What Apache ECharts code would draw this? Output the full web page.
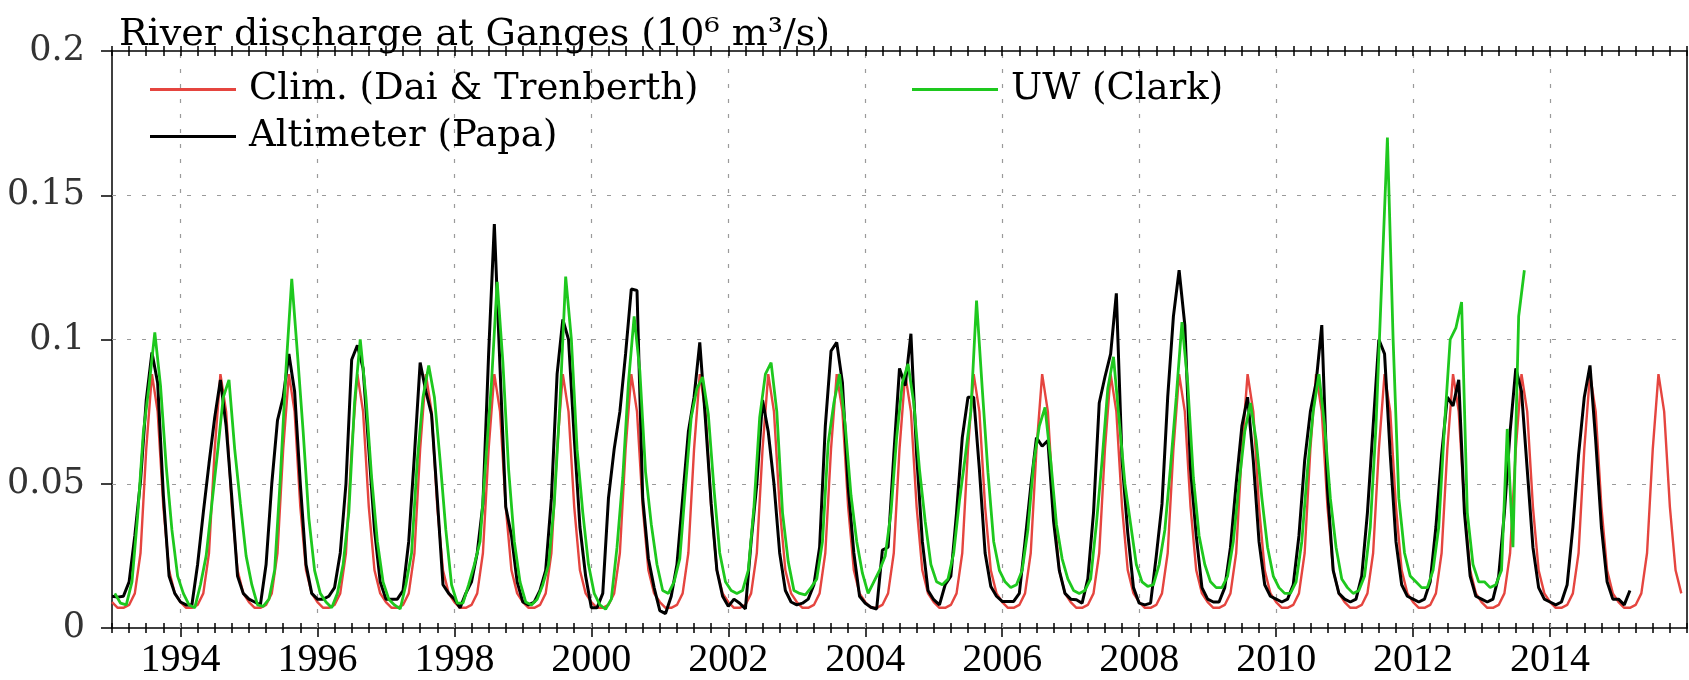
<!DOCTYPE html>
<html>
<head>
<meta charset="utf-8">
<title>River discharge at Ganges</title>
<script src="https://cdn.jsdelivr.net/npm/echarts@6/dist/echarts.min.js"></script>
<style>
  html, body { margin: 0; padding: 0; background: #fff; }
  #chart { width: 1689px; height: 680px; }
</style>
</head>
<body>
<div id="chart"></div>
<script>
  // river discharge at Ganges, 10^6 m3/s, one row per year (Jan..Dec)
  var years = [1993, 1994, 1995, 1996, 1997, 1998, 1999, 2000, 2001, 2002, 2003, 2004,
               2005, 2006, 2007, 2008, 2009, 2010, 2011, 2012, 2013, 2014, 2015];
  var tickYears = [1994, 1996, 1998, 2000, 2002, 2004, 2006, 2008, 2010, 2012, 2014];
  var gridValues = [0.05, 0.1, 0.15];

  // Dai & Trenberth climatology (same every year)
  var climMonthly = [0.009, 0.007, 0.007, 0.008, 0.012, 0.026, 0.062, 0.088, 0.075, 0.042, 0.020, 0.012];

  // altimeter (Papa)
  var altimeter = [
    [0.011, 0.0107, 0.011, 0.016, 0.032, 0.051, 0.079, 0.0955, 0.085, 0.046, 0.018, 0.012],
    [0.009, 0.008, 0.008, 0.022, 0.040, 0.057, 0.073, 0.086, 0.070, 0.045, 0.018, 0.012],
    [0.010, 0.009, 0.008, 0.022, 0.050, 0.072, 0.080, 0.095, 0.082, 0.050, 0.022, 0.012],
    [0.010, 0.010, 0.011, 0.014, 0.026, 0.050, 0.093, 0.098, 0.090, 0.062, 0.034, 0.016],
    [0.010, 0.010, 0.010, 0.013, 0.030, 0.060, 0.092, 0.082, 0.074, 0.045, 0.015, 0.012],
    [0.010, 0.007, 0.012, 0.016, 0.026, 0.043, 0.095, 0.140, 0.090, 0.042, 0.032, 0.016],
    [0.009, 0.008, 0.009, 0.013, 0.020, 0.045, 0.088, 0.107, 0.100, 0.066, 0.035, 0.018],
    [0.007, 0.007, 0.012, 0.045, 0.062, 0.075, 0.095, 0.1175, 0.117, 0.045, 0.024, 0.014],
    [0.006, 0.005, 0.011, 0.022, 0.045, 0.068, 0.080, 0.099, 0.072, 0.043, 0.020, 0.011],
    [0.0075, 0.010, 0.0086, 0.0066, 0.030, 0.050, 0.079, 0.068, 0.050, 0.026, 0.013, 0.009],
    [0.008, 0.0086, 0.010, 0.015, 0.028, 0.070, 0.096, 0.099, 0.085, 0.049, 0.026, 0.011],
    [0.0086, 0.0072, 0.0066, 0.027, 0.028, 0.060, 0.090, 0.084, 0.102, 0.060, 0.030, 0.013],
    [0.0098, 0.008, 0.015, 0.018, 0.040, 0.066, 0.080, 0.080, 0.055, 0.026, 0.0144, 0.011],
    [0.0092, 0.0092, 0.0092, 0.012, 0.030, 0.049, 0.066, 0.063, 0.065, 0.037, 0.020, 0.012],
    [0.010, 0.0098, 0.0086, 0.017, 0.040, 0.078, 0.087, 0.095, 0.116, 0.058, 0.033, 0.014],
    [0.0086, 0.008, 0.0086, 0.025, 0.043, 0.080, 0.108, 0.124, 0.105, 0.055, 0.032, 0.014],
    [0.010, 0.009, 0.009, 0.014, 0.028, 0.050, 0.070, 0.080, 0.058, 0.030, 0.015, 0.011],
    [0.010, 0.009, 0.010, 0.015, 0.032, 0.058, 0.075, 0.085, 0.105, 0.048, 0.020, 0.012],
    [0.010, 0.009, 0.010, 0.018, 0.040, 0.070, 0.100, 0.095, 0.060, 0.030, 0.015, 0.011],
    [0.010, 0.009, 0.010, 0.016, 0.035, 0.060, 0.080, 0.077, 0.086, 0.040, 0.018, 0.011],
    [0.010, 0.009, 0.010, 0.018, 0.040, 0.068, 0.090, 0.082, 0.055, 0.028, 0.014, 0.010],
    [0.009, 0.008, 0.009, 0.015, 0.035, 0.060, 0.080, 0.091, 0.065, 0.035, 0.016, 0.010],
    [0.010, 0.008, 0.013, null, null, null, null, null, null, null, null, null]
  ];

  // UW (Clark), mid-month values
  var uwClark = [
    [0.012, 0.0086, 0.008, 0.016, 0.039, 0.068, 0.084, 0.1025, 0.084, 0.056, 0.034, 0.018],
    [0.012, 0.008, 0.007, 0.015, 0.025, 0.043, 0.061, 0.080, 0.086, 0.062, 0.043, 0.025],
    [0.015, 0.008, 0.0075, 0.010, 0.020, 0.052, 0.090, 0.121, 0.095, 0.068, 0.038, 0.020],
    [0.012, 0.009, 0.007, 0.012, 0.022, 0.040, 0.078, 0.100, 0.080, 0.052, 0.030, 0.016],
    [0.010, 0.008, 0.0066, 0.015, 0.026, 0.058, 0.080, 0.091, 0.080, 0.058, 0.034, 0.015],
    [0.0086, 0.0086, 0.015, 0.022, 0.030, 0.058, 0.085, 0.120, 0.092, 0.055, 0.030, 0.016],
    [0.009, 0.008, 0.010, 0.015, 0.022, 0.043, 0.078, 0.1218, 0.100, 0.062, 0.040, 0.022],
    [0.012, 0.008, 0.0065, 0.010, 0.028, 0.052, 0.085, 0.108, 0.089, 0.054, 0.036, 0.022],
    [0.013, 0.012, 0.016, 0.024, 0.049, 0.073, 0.083, 0.087, 0.074, 0.048, 0.026, 0.016],
    [0.013, 0.012, 0.013, 0.020, 0.042, 0.073, 0.088, 0.092, 0.075, 0.040, 0.023, 0.013],
    [0.012, 0.0115, 0.014, 0.017, 0.030, 0.064, 0.078, 0.088, 0.070, 0.046, 0.030, 0.019],
    [0.012, 0.016, 0.020, 0.025, 0.040, 0.066, 0.085, 0.0915, 0.078, 0.055, 0.037, 0.022],
    [0.016, 0.015, 0.017, 0.026, 0.044, 0.059, 0.075, 0.1135, 0.083, 0.054, 0.030, 0.020],
    [0.016, 0.014, 0.015, 0.020, 0.034, 0.057, 0.070, 0.0765, 0.058, 0.036, 0.024, 0.017],
    [0.013, 0.012, 0.013, 0.017, 0.036, 0.058, 0.083, 0.094, 0.072, 0.050, 0.036, 0.022],
    [0.016, 0.0144, 0.015, 0.022, 0.034, 0.056, 0.080, 0.106, 0.085, 0.052, 0.032, 0.022],
    [0.016, 0.014, 0.014, 0.018, 0.030, 0.050, 0.068, 0.078, 0.065, 0.045, 0.028, 0.018],
    [0.014, 0.012, 0.012, 0.016, 0.030, 0.055, 0.075, 0.088, 0.070, 0.045, 0.028, 0.017],
    [0.014, 0.012, 0.013, 0.018, 0.035, 0.070, 0.120, 0.170, 0.100, 0.045, 0.026, 0.018],
    [0.016, 0.014, 0.014, 0.020, 0.035, 0.070, 0.100, 0.104, 0.113, 0.040, 0.022, 0.016],
    [0.016, 0.014, 0.015, 0.020, 0.069, 0.028, 0.108, 0.124, null, null, null, null],
    [null, null, null, null, null, null, null, null, null, null, null, null],
    [null, null, null, null, null, null, null, null, null, null, null, null]
  ];

  var serif = 'DejaVu Serif';
  var tickFont = 'Liberation Serif';

  // rows -> [time, value] pairs; offset 0 = start of month, 0.5 = mid-month
  function monthly(rows, offset) {
    var out = [];
    rows.forEach(function (row, i) {
      row.forEach(function (v, m) {
        out.push([years[i] + (m + offset) / 12, v]);
      });
    });
    return out;
  }
  var climRows = years.map(function () { return climMonthly; });

  // x axes all share the same time range; several are stacked to draw crossed ticks
  function xAxisBase(extra) {
    return Object.assign({
      type: 'value', min: 1993, max: 2016, interval: 0.25,
      axisLine: { show: false },
      axisTick: { show: false },
      axisLabel: { show: false },
      splitLine: { show: false }
    }, extra);
  }
  function yAxisBase(extra) {
    return Object.assign({
      type: 'value', min: 0, max: 0.2, interval: 0.05,
      axisLine: { show: false },
      axisTick: { show: false },
      axisLabel: { show: false },
      splitLine: { show: false }
    }, extra);
  }
  var black = { color: '#000', width: 1.5 };
  var gridStyle = { color: '#9a9a9a', width: 1.2, type: [4, 11] };

  var chart = echarts.init(document.getElementById('chart'), null, { renderer: 'canvas' });
  chart.setOption({
    animation: false,
    backgroundColor: '#fff',
    grid: { left: 112, right: 2, top: 51, bottom: 52 },
    title: {
      text: 'River discharge at Ganges (10\u2076 m\u00b3/s)',
      left: 114, top: 11,
      textStyle: { fontFamily: serif, fontSize: 38, fontWeight: 'normal', color: '#000' }
    },
    legend: [{
      data: ['Clim. (Dai & Trenberth)', 'Altimeter (Papa)'],
      orient: 'vertical', left: 145, top: 66, itemGap: 10,
      icon: 'rect', itemWidth: 86, itemHeight: 3, selectedMode: false,
      textStyle: { fontFamily: serif, fontSize: 37, color: '#000', padding: [0, 0, 0, 8] }
    }, {
      data: ['UW (Clark)'],
      orient: 'vertical', left: 907, top: 66,
      icon: 'rect', itemWidth: 86, itemHeight: 3, selectedMode: false,
      textStyle: { fontFamily: serif, fontSize: 37, color: '#000', padding: [0, 0, 0, 8] }
    }],
    xAxis: [
      xAxisBase({
        position: 'bottom',
        axisLine: { show: true, lineStyle: black },
        axisTick: { show: true, length: 5, lineStyle: black },
        axisLabel: {
          show: true, customValues: tickYears, margin: 12,
          fontFamily: tickFont, fontSize: 40, color: '#000',
          formatter: function (v) { return String(v); }
        }
      }),
      xAxisBase({ position: 'bottom', axisTick: { show: true, inside: true, length: 5, lineStyle: black } }),
      xAxisBase({ position: 'bottom', axisTick: { show: true, customValues: tickYears, length: 9, lineStyle: black } }),
      xAxisBase({
        position: 'bottom',
        axisTick: { show: true, customValues: tickYears, inside: true, length: 577, lineStyle: gridStyle }
      }),
      xAxisBase({
        position: 'top',
        axisLine: { show: true, lineStyle: black },
        axisTick: { show: true, length: 5, lineStyle: black }
      }),
      xAxisBase({ position: 'top', axisTick: { show: true, inside: true, length: 5, lineStyle: black } })
    ],
    yAxis: [
      yAxisBase({
        position: 'left',
        axisLine: { show: true, lineStyle: black },
        axisTick: { show: true, length: 11, lineStyle: black },
        axisLabel: {
          show: true, margin: 27, fontFamily: serif, fontSize: 35, color: '#333',
          formatter: function (v) { return String(Math.round(v * 100) / 100); }
        }
      }),
      yAxisBase({
        position: 'left',
        axisTick: { show: true, customValues: gridValues, inside: true, length: 1575, lineStyle: gridStyle }
      }),
      yAxisBase({ position: 'right', axisLine: { show: true, lineStyle: black } })
    ],
    series: [{
      name: 'Clim. (Dai & Trenberth)', type: 'line', showSymbol: false,
      data: monthly(climRows, 0),
      itemStyle: { color: '#e5453f' },
      lineStyle: { color: '#e5453f', width: 2.4 }
    }, {
      name: 'Altimeter (Papa)', type: 'line', showSymbol: false,
      data: monthly(altimeter, 0),
      itemStyle: { color: '#000' },
      lineStyle: { color: '#000', width: 3 }
    }, {
      name: 'UW (Clark)', type: 'line', showSymbol: false,
      data: monthly(uwClark, 0.5),
      itemStyle: { color: '#1ec81e' },
      lineStyle: { color: '#1ec81e', width: 2.8 }
    }]
  });
</script>
</body>
</html>
